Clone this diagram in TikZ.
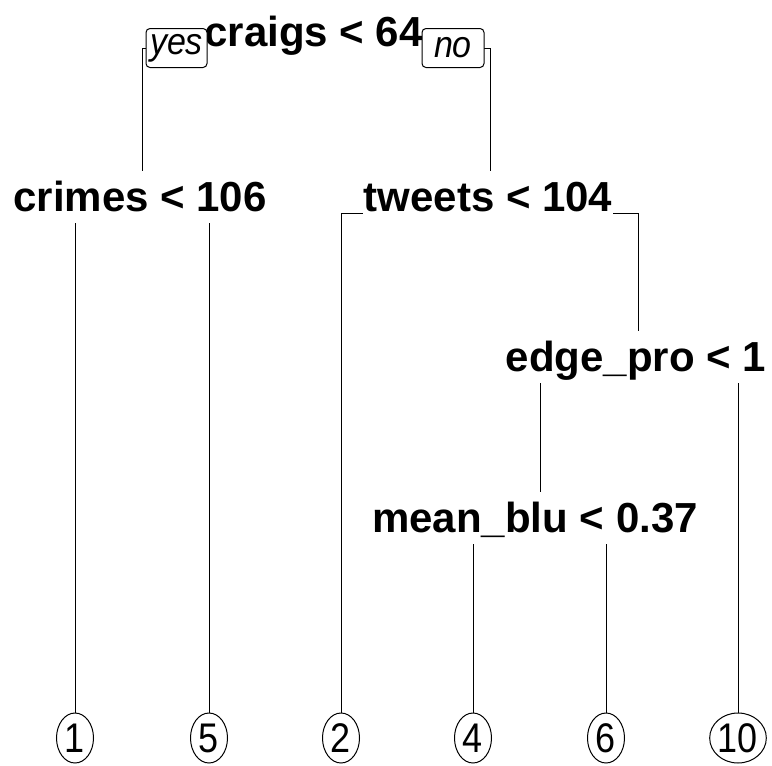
\documentclass[tikz,border=0pt]{standalone}
\usepackage{fontspec}
\usepackage{graphicx}
\setmainfont{Liberation Sans}
\usetikzlibrary{shapes.geometric}
\pgfdeclarelayer{background}
\pgfsetlayers{background,main}
% slightly taller glyphs for the leaf numbers and branch tags
\newcommand\tall[2][1.15]{\scalebox{1}[#1]{#2}}

\begin{document}
\begin{tikzpicture}[x=1pt,y=-1pt,
  split/.style={fill=white, inner xsep=1pt, inner ysep=0pt, text height=40pt,
    text depth=12pt, anchor=base, font=\fontsize{42}{42}\selectfont\bfseries},
  tag/.style={draw, fill=white, rounded corners=4pt, line width=1pt, inner sep=0pt,
    minimum height=39pt, font=\fontsize{34}{34}\selectfont\itshape},
  leaf/.style={ellipse, draw, fill=white, line width=1pt, inner sep=0pt,
    minimum width=37pt, minimum height=50pt, font=\fontsize{36}{36}\selectfont},
  branch/.style={line width=1pt}]
\useasboundingbox (0,0) rectangle (772,766);

% split labels
\node[split] (root)   at (313.5,46) {craigs < 64};
\node[split] (crimes) at (140,211)  {crimes < 106};
\node[split] (tweets) at (488,211)  {tweets < 104};
\node[split] (edge)   at (636,371)  {edge\_pro < 1};
\node[split] (mean)   at (535,532)  {mean\_blu < 0.37};

% yes / no tags on the root branches
\node[tag, minimum width=61pt] (yes) at (176.5,48) {\tall[1.1]{yes}};
\node[tag, minimum width=62pt] (no)  at (453,48)   {\tall[1.1]{no}};

% leaves
\node[leaf] (l1)  at (75,738)  {\tall{1}};
\node[leaf] (l5)  at (209,738) {\tall{5}};
\node[leaf] (l2)  at (341,738) {\tall{2}};
\node[leaf] (l4)  at (473,738) {\tall{4}};
\node[leaf] (l6)  at (606,738) {\tall{6}};
\node[leaf, minimum width=47pt] (l10) at (738,738) {\tall{10}};

% branches, drawn underneath the labels
\begin{pgfonlayer}{background}
\draw[branch] ([xshift=2pt]crimes.north) |- ([yshift=-2pt]root.base) -| ([xshift=2pt]tweets.north);
\draw[branch] (l1.north) -- (l1 |- crimes.base);
\draw[branch] (l5.north) -- (l5 |- crimes.base);
\draw[branch] (l2.north) |- ([yshift=-2pt]tweets.base) -| ([xshift=2pt]edge.north);
\draw[branch] ([xshift=5pt]mean.north) -- ([xshift=5pt]mean.north |- edge.base);
\draw[branch] (l10.north) -- (l10 |- edge.base);
\draw[branch] (l4.north) -- (l4 |- mean.base);
\draw[branch] (l6.north) -- (l6 |- mean.base);
\end{pgfonlayer}
\end{tikzpicture}
\end{document}
